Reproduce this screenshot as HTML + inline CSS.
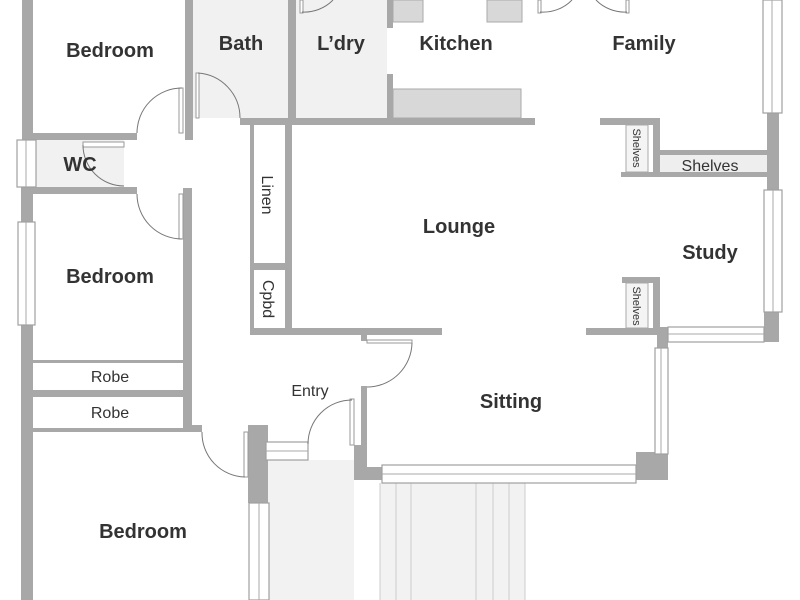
<!DOCTYPE html>
<html><head><style>
html,body{margin:0;padding:0;background:#fff}
svg{display:block}
.w{fill:#a8a8a8}
.win{fill:#fff;stroke:#a0a0a0;stroke-width:1.2}
.arc{fill:none;stroke:#777;stroke-width:1}
.lf{fill:#fff;stroke:#999;stroke-width:1}
.t{font-family:"Liberation Sans",sans-serif;font-weight:bold;font-size:20px;fill:#333}
.s{font-family:"Liberation Sans",sans-serif;font-size:16px;fill:#333}
</style></head><body>
<svg width="800" height="600" viewBox="0 0 800 600" xmlns="http://www.w3.org/2000/svg">
<!-- floors -->
<rect x="193" y="0" width="95" height="118" fill="#f1f1f1"/>
<rect x="296" y="0" width="91" height="118" fill="#f1f1f1"/>
<rect x="36" y="140" width="88" height="47" fill="#f1f1f1"/>
<rect x="268" y="460" width="86" height="140" fill="#f2f2f2"/>
<rect x="380" y="483" width="145" height="117" fill="#f2f2f2"/>
<g stroke="#ccc" stroke-width="1">
<line x1="380" y1="483" x2="380" y2="600"/><line x1="396" y1="483" x2="396" y2="600"/><line x1="411" y1="483" x2="411" y2="600"/>
<line x1="476" y1="483" x2="476" y2="600"/><line x1="493" y1="483" x2="493" y2="600"/><line x1="509" y1="483" x2="509" y2="600"/><line x1="525" y1="483" x2="525" y2="600"/>
</g>
<!-- kitchen benches -->
<rect x="393" y="0" width="30" height="22" fill="#d8d8d8" stroke="#aaa"/>
<rect x="487" y="0" width="35" height="22" fill="#d8d8d8" stroke="#aaa"/>
<rect x="393" y="89" width="128" height="29" fill="#d8d8d8" stroke="#aaa"/>
<!-- shelves fill -->
<rect x="626" y="125" width="22" height="47" fill="#f4f4f4" stroke="#aaa"/>
<rect x="660" y="155" width="107" height="22" fill="#eee"/>
<rect x="626" y="283" width="22" height="45" fill="#f4f4f4" stroke="#aaa"/>
<!-- walls -->
<g class="w">
<rect x="22" y="0" width="11" height="140"/>
<rect x="21" y="185" width="12" height="38"/>
<rect x="21" y="325" width="12" height="275"/>
<rect x="33" y="133" width="104" height="7"/>
<rect x="33" y="187" width="104" height="7"/>
<rect x="185" y="0" width="8" height="140"/>
<rect x="183" y="188" width="9" height="244"/>
<rect x="240" y="118" width="295" height="7"/>
<rect x="288" y="0" width="8" height="125"/>
<rect x="387" y="0" width="6" height="28"/>
<rect x="387" y="74" width="6" height="46"/>
<rect x="250" y="125" width="4" height="210"/>
<rect x="285" y="125" width="7" height="210"/>
<rect x="250" y="263" width="40" height="7"/>
<rect x="250" y="328" width="192" height="7"/>
<rect x="586" y="328" width="74" height="7"/>
<rect x="33" y="360" width="155" height="3"/>
<rect x="33" y="390" width="155" height="7"/>
<rect x="33" y="428" width="160" height="4"/>
<rect x="192" y="425" width="10" height="7"/>
<rect x="361" y="335" width="6" height="6"/>
<rect x="361" y="386" width="6" height="94"/>
<rect x="354" y="445" width="13" height="35"/>
<rect x="354" y="467" width="28" height="13"/>
<rect x="636" y="452" width="32" height="28"/>
<rect x="657" y="327" width="11" height="23"/>
<rect x="248" y="425" width="20" height="78"/>
<rect x="600" y="118" width="60" height="7"/>
<rect x="653" y="118" width="7" height="59"/>
<rect x="653" y="150" width="114" height="5"/>
<rect x="621" y="172" width="146" height="5"/>
<rect x="622" y="277" width="38" height="6"/>
<rect x="653" y="277" width="7" height="58"/>
<rect x="767" y="112" width="12" height="80"/>
<rect x="764" y="310" width="15" height="32"/>
</g>
<!-- windows -->
<rect class="win" x="17" y="140" width="19" height="47"/><line x1="26" y1="140" x2="26" y2="187" stroke="#aaa"/>
<rect class="win" x="18" y="222" width="17" height="103"/><line x1="26" y1="222" x2="26" y2="325" stroke="#aaa"/>
<rect class="win" x="763" y="0" width="19" height="113"/><line x1="772" y1="0" x2="772" y2="113" stroke="#aaa"/>
<rect class="win" x="764" y="190" width="18" height="122"/><line x1="773" y1="190" x2="773" y2="312" stroke="#aaa"/>
<rect class="win" x="668" y="327" width="96" height="15"/><line x1="668" y1="334" x2="764" y2="334" stroke="#aaa"/>
<rect class="win" x="655" y="348" width="13" height="106"/><line x1="661" y1="348" x2="661" y2="454" stroke="#aaa"/>
<rect class="win" x="382" y="465" width="254" height="18"/><line x1="382" y1="474" x2="636" y2="474" stroke="#aaa"/>
<rect class="win" x="266" y="442" width="42" height="18"/><line x1="266" y1="451" x2="308" y2="451" stroke="#aaa"/>
<rect class="win" x="249" y="503" width="20" height="97"/><line x1="259" y1="503" x2="259" y2="600" stroke="#aaa"/>
<!-- doors -->
<rect class="lf" x="179" y="88" width="4" height="45"/><path class="arc" d="M137 133 A45 45 0 0 1 182 88"/>
<rect class="lf" x="179" y="194" width="4" height="45"/><path class="arc" d="M137 194 A45 45 0 0 0 182 239"/>
<rect class="lf" x="83" y="142" width="41" height="5"/><path class="arc" d="M83 145 A41 41 0 0 0 124 186"/>
<rect class="lf" x="196" y="73" width="3" height="45"/><path class="arc" d="M198 73 A45 45 0 0 1 240 118"/>
<rect class="lf" x="300" y="0" width="3" height="13"/><path class="arc" d="M302 12 A40 40 0 0 0 333 0"/>
<rect class="lf" x="538" y="0" width="3" height="13"/><path class="arc" d="M540 12 A40 40 0 0 0 572 0"/>
<rect class="lf" x="626" y="0" width="3" height="13"/><path class="arc" d="M627 12 A40 40 0 0 1 596 0"/>
<rect class="lf" x="367" y="340" width="45" height="3"/><path class="arc" d="M412 343 A45 45 0 0 1 367 387"/>
<rect class="lf" x="350" y="399" width="4" height="46"/><path class="arc" d="M352 400 A44 44 0 0 0 308 444"/>
<rect class="lf" x="244" y="432" width="4" height="45"/><path class="arc" d="M202 432 A44 44 0 0 0 245 477"/>
<!-- labels -->
<text class="t" x="110" y="57" text-anchor="middle">Bedroom</text>
<text class="t" x="241" y="50" text-anchor="middle">Bath</text>
<text class="t" x="341" y="50" text-anchor="middle">L’dry</text>
<text class="t" x="456" y="50" text-anchor="middle">Kitchen</text>
<text class="t" x="644" y="50" text-anchor="middle">Family</text>
<text class="t" x="80" y="171" text-anchor="middle">WC</text>
<text class="t" x="110" y="283" text-anchor="middle">Bedroom</text>
<text class="t" x="459" y="233" text-anchor="middle">Lounge</text>
<text class="t" x="710" y="259" text-anchor="middle">Study</text>
<text class="t" x="511" y="408" text-anchor="middle">Sitting</text>
<text class="t" x="143" y="538" text-anchor="middle">Bedroom</text>
<text class="s" x="110" y="382" text-anchor="middle">Robe</text>
<text class="s" x="110" y="418" text-anchor="middle">Robe</text>
<text class="s" x="310" y="396" text-anchor="middle">Entry</text>
<text class="s" x="710" y="171" text-anchor="middle">Shelves</text>
<text class="s" transform="translate(262,195) rotate(90)" text-anchor="middle">Linen</text>
<text class="s" transform="translate(263,299) rotate(90)" text-anchor="middle">Cpbd</text>
<text class="s" style="font-size:11px" transform="translate(633,148) rotate(90)" text-anchor="middle">Shelves</text>
<text class="s" style="font-size:11px" transform="translate(633,306) rotate(90)" text-anchor="middle">Shelves</text>
</svg>
</body></html>
